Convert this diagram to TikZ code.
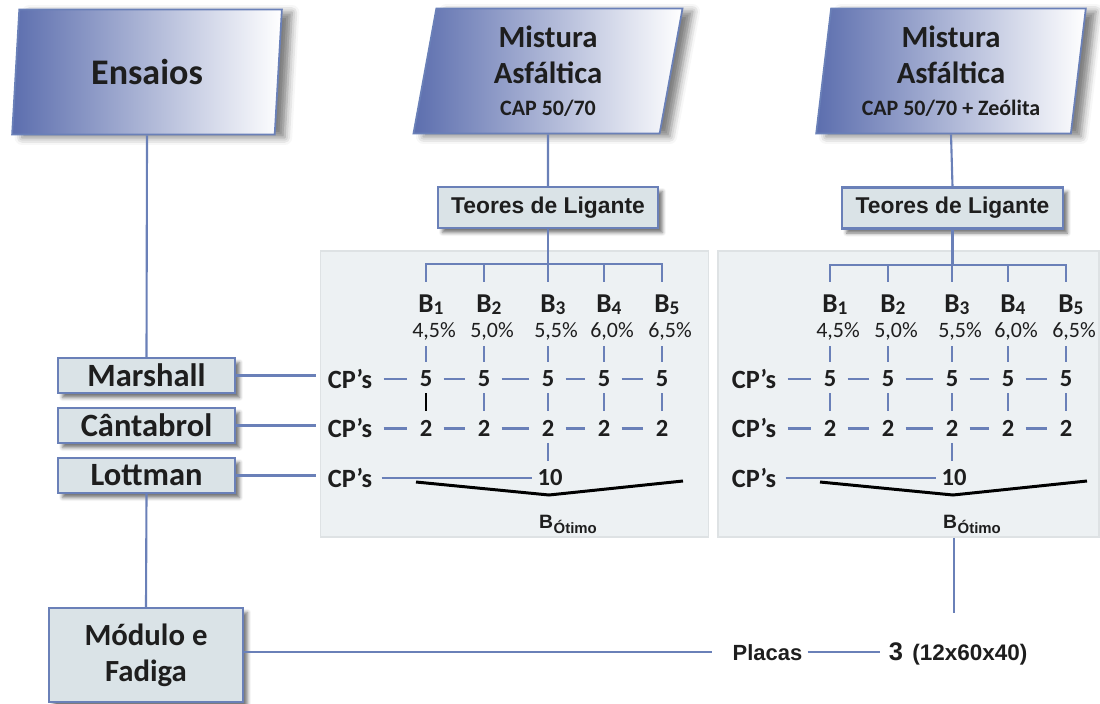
\documentclass[tikz,border=0pt]{standalone}
\usepackage{fontspec}
\setmainfont{Carlito}
\newfontfamily\arialfont{Liberation Sans}
\usetikzlibrary{shapes.geometric,shadows.blur}

\definecolor{linkblue}{RGB}{106,128,184}
\definecolor{paradark}{RGB}{92,110,174}
\definecolor{boxfill}{RGB}{218,227,231}
\definecolor{panelfill}{RGB}{237,241,243}
\definecolor{panelline}{RGB}{222,226,228}
\definecolor{ink}{RGB}{30,30,30}

\tikzset{
    link/.style={draw=linkblue, line width=1.2pt},
    hdash/.style={link, shorten <=2.2mm, shorten >=2.4mm},
    vdash/.style={link, shorten <=1.2mm, shorten >=1.8mm},
    brace/.style={draw=black, line width=1.7pt},
    para/.style={trapezium, trapezium left angle=83, trapezium right angle=97,
        trapezium stretches=true, minimum width=54mm, minimum height=25mm,
        draw=linkblue, line width=1pt, left color=paradark, right color=white,
        blur shadow={shadow xshift=2mm, shadow yshift=-0.6mm,
            shadow blur radius=1.5mm, shadow opacity=50},
        text=ink, align=center, inner sep=0pt},
    testbox/.style={rectangle, draw=linkblue, line width=1.3pt, fill=boxfill,
        blur shadow={shadow xshift=0.9mm, shadow yshift=-0.9mm,
            shadow blur radius=0.7mm, shadow opacity=55},
        text=ink, align=center, inner sep=0pt},
    panel/.style={rectangle, draw=panelline, line width=1pt, fill=panelfill, inner sep=0pt},
    num/.style={text=ink, inner sep=0pt, font=\fontsize{14}{16}\selectfont\bfseries},
    cps/.style={num, font=\fontsize{15}{17}\selectfont\bfseries},
    bname/.style={text=ink, inner sep=0pt, font=\fontsize{15.5}{17}\selectfont\bfseries},
    pct/.style={text=ink, inner sep=0pt, font=\fontsize{12.5}{14}\selectfont},
    arial/.style={text=ink, inner sep=0pt, font=\arialfont\bfseries},
}

\begin{document}
\begin{tikzpicture}[x=0.02cm, y=-0.02cm]
    \useasboundingbox (0,0) rectangle (1100,704);
    % Panels
    \node[panel, minimum width=77.6mm, minimum height=57.2mm] (Pan1) at (514.5,394) {};
    \node[panel, minimum width=76.2mm, minimum height=57.2mm] (Pan2) at (908.5,394) {};
    % Header
    \node[para, font=\fontsize{20.5}{22}\selectfont\bfseries] (Ens) at (147,72) {Ensaios};
    \node[para, font=\fontsize{17.5}{20.5}\selectfont\bfseries] (Mis1) at (548,71)
        {Mistura\\Asfáltica\\[-2.3pt]{\fontsize{12.5}{14}\selectfont CAP 50/70}};
    \node[para, font=\fontsize{17.5}{20.5}\selectfont\bfseries] (Mis2) at (951,71)
        {Mistura\\Asfáltica\\[-2.3pt]{\fontsize{12.5}{14}\selectfont CAP 50/70 + Zeólita}};
    \node[testbox, minimum width=44mm, minimum height=8.2mm, font=\arialfont\bfseries\fontsize{13}{15}\selectfont] (Teo1) at (548,207.5) {Teores de Ligante};
    \node[testbox, minimum width=44.2mm, minimum height=8.2mm, font=\arialfont\bfseries\fontsize{13}{15}\selectfont] (Teo2) at (952.5,208) {Teores de Ligante};
    % Tests
    \node[testbox, minimum width=35.4mm, minimum height=7mm, font=\fontsize{18.5}{20}\selectfont\bfseries] (Mrs) at (146.5,375.5) {Marshall};
    \node[testbox, minimum width=35.4mm, minimum height=7mm, font=\fontsize{18.5}{20}\selectfont\bfseries] (Cnt) at (146.5,425.5) {Cântabrol};
    \node[testbox, minimum width=35.4mm, minimum height=7mm, font=\fontsize{18.5}{20}\selectfont\bfseries] (Ltm) at (146.5,475.5) {Lottman};
    \node[testbox, minimum width=38.8mm, minimum height=18.8mm, font=\fontsize{17.5}{20.4}\selectfont\bfseries] (Mod) at (146,655) {Módulo e\\Fadiga};
    % Binder contents
    \foreach \p/\dx in {1/0,2/404} {
        \foreach \x/\pc [count=\i] in {426/{4,5},484/{5,0},548/{5,5},604/{6,0},662/{6,5}} {
            \node[bname, anchor=base] (B\p-\i) at (\x+\dx,312)
                {B\rlap{\raisebox{-1.5pt}{\fontsize{11}{12}\selectfont\i}}};
            \node[pct, anchor=base] (Pct\p-\i) at (\x+\dx+8,337) {\pc\%};
            \node[num] (Five\p-\i) at (\x+\dx,379) {5};
            \node[num] (Two\p-\i) at (\x+\dx,428.5) {2};
        }
        \node[cps] (CPm\p) at (350+\dx,379) {CP’s};
        \node[cps] (CPc\p) at (350+\dx,428.5) {CP’s};
        \node[cps] (CPl\p) at (350+\dx,478) {CP’s};
        \node[num] (Ten\p) at (550+\dx,478) {10};
        \node[arial, font=\arialfont\bfseries\fontsize{11}{12}\selectfont] (Bot\p) at (568+\dx,524)
            {B\kern0.3pt\raisebox{-2.8pt}{\fontsize{8.5}{9}\selectfont Ótimo}};
        % Connections
        \foreach \i in {1,...,5} {
            \draw[link, shorten >=2.4mm] (Teo\p.south) -- ++(0,35) -| (B\p-\i.north);
            \draw[vdash] (Five\p-\i |- Pct\p-\i.south) -- (Five\p-\i);
            \draw[vdash] (Five\p-\i) -- (Two\p-\i);
        }
        \foreach \i/\j in {1/2,2/3,3/4,4/5} {
            \draw[hdash] (Five\p-\i) -- (Five\p-\j);
            \draw[hdash] (Two\p-\i) -- (Two\p-\j);
        }
        \draw[hdash] (CPm\p) -- (Five\p-1);
        \draw[hdash] (CPc\p) -- (Two\p-1);
        \draw[vdash] (Two\p-3) -- (Two\p-3 |- Ten\p.north);
        \draw[link, shorten <=1.8mm, shorten >=1mm] (CPl\p) -- (Ten\p);
        \draw[brace] (416+\dx,482) -- (549+\dx,495) -- (683+\dx,481);
    }
    \draw[vdash, draw=black, line width=1.4pt] (Five1-1) -- (Two1-1);
    % Plates
    \node[arial, anchor=base, font=\arialfont\bfseries\fontsize{12.5}{14}\selectfont] (Pla) at (767.5,660) {Placas};
    \node[arial, anchor=base, font=\arialfont\bfseries\fontsize{14.5}{16}\selectfont] (Thr) at (896,660) {3};
    \node[arial, anchor=base west, font=\arialfont\bfseries\fontsize{12.8}{14}\selectfont] (Dim) at (912,660) {(12x60x40)};
    % Arrows
    \draw[link] (Ens.south) -- (Mrs.north);
    \draw[link] (Mis1.south) -- (Teo1.north);
    \draw[link] (Mis2.south) -- (Teo2.north);
    \draw[link, shorten >=2.2mm] (Mrs.east) -- (Mrs.east -| CPm1.west);
    \draw[link, shorten >=2.2mm] (Cnt.east) -- (Cnt.east -| CPc1.west);
    \draw[link, shorten >=2.2mm] (Ltm.east) -- (Ltm.east -| CPl1.west);
    \draw[link] (Ltm.south) -- (Mod.north);
    \draw[link, shorten >=4mm] (Mod.east |- Pla) -- (Pla);
    \draw[link, shorten <=1mm, shorten >=1.8mm] (Pla.east) -- (Pla.east -| Thr.west);
    \draw[link] (Pan2.south -| Ten2) -- ++(0,75);
\end{tikzpicture}
\end{document}
